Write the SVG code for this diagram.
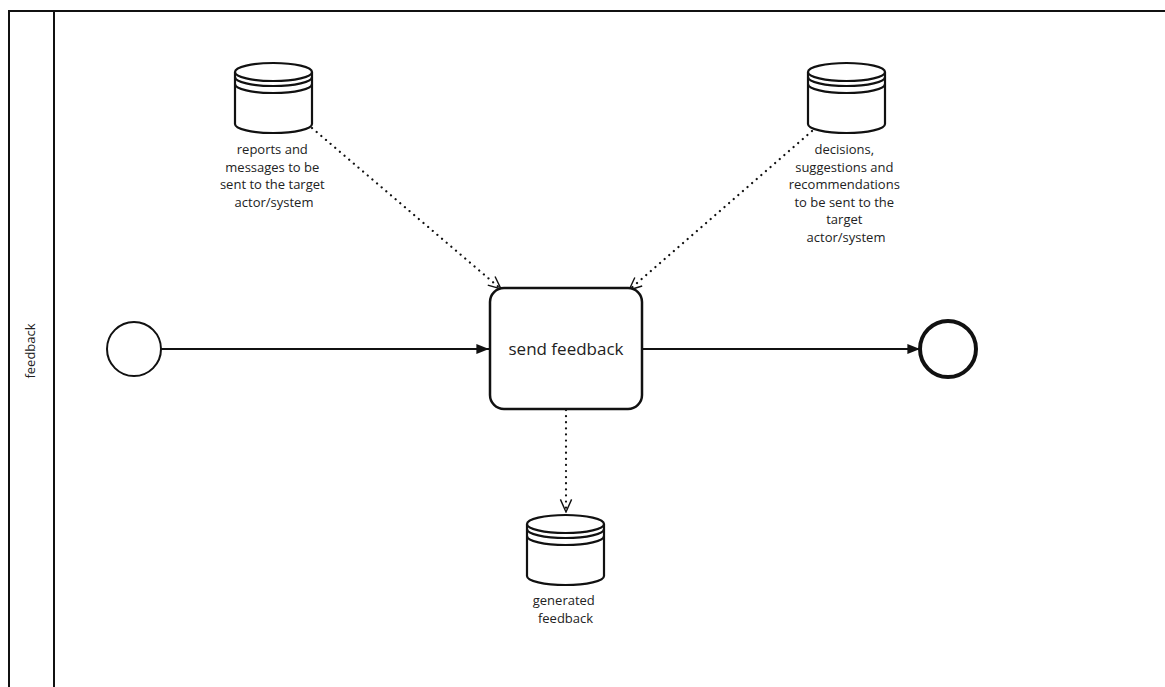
<svg xmlns="http://www.w3.org/2000/svg" width="1165" height="687" viewBox="0 0 1165 687">
  <style>
    .line { fill: none; stroke: #111; stroke-width: 2; }
    .shape { fill: #fff; stroke: #111; stroke-width: 2; }
    .label { font-family: "Open Sans", "Liberation Sans", sans-serif; font-size: 13px; fill: #222; text-anchor: middle; }
    .task-label { font-size: 17px; }
    .dotted { fill: none; stroke: #111; stroke-width: 2.2; stroke-dasharray: 0.1 6; stroke-linecap: round; }
  </style>
  <defs>
    <marker id="flowEnd" viewBox="0 0 20 20" refX="19" refY="10" markerWidth="14" markerHeight="14" markerUnits="userSpaceOnUse" orient="auto">
      <path d="M1,3 L19,10 L1,17 Z" fill="#111"/>
    </marker>
    <marker id="assocEnd" viewBox="0 0 20 20" refX="19" refY="10" markerWidth="14" markerHeight="14" markerUnits="userSpaceOnUse" orient="auto">
      <path d="M1,2 L19,10 L1,18" fill="none" stroke="#111" stroke-width="2"/>
    </marker>
    <g id="dataStore">
      <path d="M0,12 v52 a38.5,9 0 0 0 77,0 v-52" fill="#fff" stroke="#111" stroke-width="2.2"/>
      <ellipse cx="38.5" cy="12" rx="38.5" ry="9" fill="#fff" stroke="#111" stroke-width="2.2"/>
      <path d="M0,17 a38.5,9 0 0 0 77,0 M0,24 a38.5,9 0 0 0 77,0" fill="none" stroke="#111" stroke-width="2.2"/>
    </g>
  </defs>

  <rect width="1165" height="687" fill="#fff"/>

  <!-- pool / lane -->
  <g id="lane">
    <path d="M9,700 V11 H1175 M54,11 V700" fill="none" stroke="#111" stroke-width="2"/>
    <text class="label" transform="translate(35,351) rotate(-90)">feedback</text>
  </g>

  <!-- connectors -->
  <g id="connectors">
    <path class="line" d="M161,349 H489" marker-end="url(#flowEnd)"/>
    <path class="line" d="M642,349 H920" marker-end="url(#flowEnd)"/>
    <path class="dotted" d="M312,128 L501,289" marker-end="url(#assocEnd)"/>
    <path class="dotted" d="M812,131 L629,290" marker-end="url(#assocEnd)"/>
    <path class="dotted" d="M566,410 V512" marker-end="url(#assocEnd)"/>
  </g>

  <g id="startEvent">
    <circle class="shape" cx="134" cy="349" r="27"/>
  </g>

  <g id="endEvent">
    <circle cx="948" cy="349" r="28" fill="#fff" stroke="#111" stroke-width="4"/>
  </g>

  <g id="sendFeedback">
    <rect x="490" y="288" width="152" height="121" rx="14" fill="#fff" stroke="#111" stroke-width="2.5"/>
    <text class="label task-label" x="566" y="355">send feedback</text>
  </g>

  <g id="reportsStore">
    <use href="#dataStore" x="235" y="60"/>
    <text class="label">
      <tspan x="274" y="154">reports and</tspan>
      <tspan x="274" y="171.6">messages to be</tspan>
      <tspan x="274" y="189.2">sent to the target</tspan>
      <tspan x="274" y="206.8">actor/system</tspan>
    </text>
  </g>

  <g id="decisionsStore">
    <use href="#dataStore" x="808" y="60"/>
    <text class="label">
      <tspan x="846" y="154">decisions,</tspan>
      <tspan x="846" y="171.6">suggestions and</tspan>
      <tspan x="846" y="189.2">recommendations</tspan>
      <tspan x="846" y="206.8">to be sent to the</tspan>
      <tspan x="846" y="224.4">target</tspan>
      <tspan x="846" y="242">actor/system</tspan>
    </text>
  </g>

  <g id="generatedStore">
    <use href="#dataStore" x="527" y="512"/>
    <text class="label">
      <tspan x="565.5" y="605">generated</tspan>
      <tspan x="565.5" y="622.6">feedback</tspan>
    </text>
  </g>
</svg>
